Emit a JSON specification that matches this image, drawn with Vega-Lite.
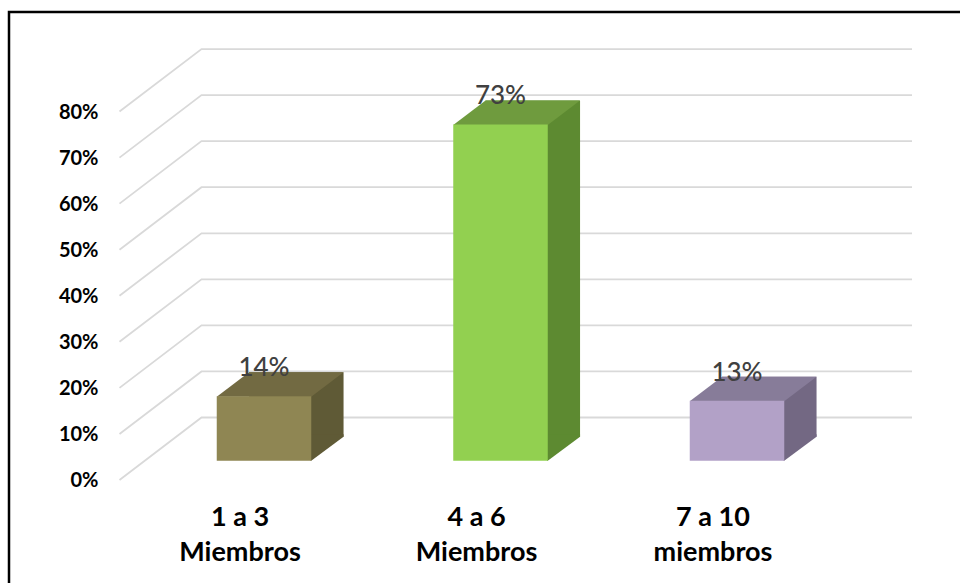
{
  "$schema": "https://vega.github.io/schema/vega-lite/v6.json",
  "width": 960,
  "height": 590,
  "autosize": "none",
  "padding": {"left": 9, "top": 12, "right": 0, "bottom": 0},
  "background": "white",
  "config": {"view": {"stroke": "#000000", "strokeWidth": 2.5}, "font": "Lato"},
  "datasets": {
    "barras": [
      {"grupo": "1 a 3 Miembros", "valor": 0.14},
      {"grupo": "4 a 6 Miembros", "valor": 0.73},
      {"grupo": "7 a 10 miembros", "valor": 0.13}
    ],
    "rejilla": [
      {"v": 0}, {"v": 0.1}, {"v": 0.2}, {"v": 0.3}, {"v": 0.4},
      {"v": 0.5}, {"v": 0.6}, {"v": 0.7}, {"v": 0.8}
    ]
  },
  "layer": [
    {
      "data": {"name": "rejilla"},
      "mark": {"type": "point", "shape": "M -381 62.5 L -299 0 L 411.5 0", "size": 4, "filled": false, "stroke": "#d9d9d9", "strokeWidth": 1.8, "opacity": 1},
      "encoding": {
        "x": {"datum": "4 a 6 Miembros", "type": "nominal"},
        "y": {
          "field": "v", "type": "quantitative",
          "scale": {"domain": [-0.4005, 0.8804], "nice": false, "zero": false},
          "axis": {
            "values": [0, 0.1, 0.2, 0.3, 0.4, 0.5, 0.6, 0.7, 0.8],
            "format": ".0%", "offset": -91, "labelOffset": 63, "labelPadding": 2,
            "ticks": false, "domain": false, "grid": false, "title": null,
            "labelFont": "Lato", "labelFontSize": 20, "labelFontWeight": "bold",
            "labelColor": "#000000", "labelAlign": "right", "labelBaseline": "middle"
          }
        }
      }
    },
    {
      "data": {"name": "barras"},
      "mark": {"type": "bar", "xOffset": 32.3, "x2Offset": 32.3, "yOffset": 19.2, "y2Offset": 19.2, "opacity": 1},
      "encoding": {
        "x": {
          "field": "grupo", "type": "nominal",
          "scale": {"type": "band", "paddingInner": 0.6004, "paddingOuter": 0.8298, "align": 0.5293, "round": false},
          "axis": {
            "orient": "bottom", "offset": -107, "labelOffset": -24, "labelPadding": 9,
            "ticks": false, "domain": false, "title": null, "labelAngle": 0,
            "labelFont": "Lato", "labelFontSize": 27, "labelFontWeight": "bold",
            "labelColor": "#000000", "labelLineHeight": 35, "labelBaseline": "top", "labelAlign": "center",
            "labelExpr": "[slice(datum.label, 0, lastindexof(datum.label, ' ')), slice(datum.label, lastindexof(datum.label, ' ') + 1)]"
          }
        },
        "y": {"field": "valor", "type": "quantitative", "stack": null},
        "y2": {"datum": 0},
        "color": {"field": "grupo", "type": "nominal", "scale": {"range": ["#5f5a36", "#5d8a31", "#736883"]}, "legend": null}
      }
    },
    {
      "data": {"name": "barras"},
      "mark": {"type": "point", "shape": "M 46.5 0 L 46.5 -26.5 L 79.55 -26.5 L 79.55 -24 L 47.25 0 Z", "size": 4, "filled": true, "opacity": 1, "yOffset": 43.2},
      "encoding": {
        "x": {"field": "grupo", "type": "nominal"},
        "y": {"datum": 0, "type": "quantitative"},
        "color": {"field": "grupo", "type": "nominal", "scale": {"range": ["#5f5a36", "#5d8a31", "#736883"]}, "legend": null}
      }
    },
    {
      "data": {"name": "barras"},
      "mark": {"type": "point", "shape": "M -47.25 0.5 L 47.25 0.5 L 79.55 -24 L -14.95 -24 Z", "size": 4, "filled": true, "opacity": 1, "yOffset": 43.2},
      "encoding": {
        "x": {"field": "grupo", "type": "nominal"},
        "y": {"field": "valor", "type": "quantitative"},
        "color": {"field": "grupo", "type": "nominal", "scale": {"range": ["#726a42", "#6f9b3e", "#877c99"]}, "legend": null}
      }
    },
    {
      "data": {"name": "barras"},
      "mark": {"type": "bar", "yOffset": 43.2, "y2Offset": 43.2, "opacity": 1},
      "encoding": {
        "x": {"field": "grupo", "type": "nominal"},
        "y": {"field": "valor", "type": "quantitative", "stack": null},
        "y2": {"datum": 0},
        "color": {"field": "grupo", "type": "nominal", "scale": {"range": ["#8f8653", "#92d050", "#b2a1c7"]}, "legend": null}
      }
    },
    {
      "data": {"name": "barras"},
      "mark": {"type": "text", "font": "Lato", "fontSize": 26, "fontWeight": 500, "color": "#404040", "align": "center", "baseline": "middle", "yOffset": 15.2},
      "encoding": {
        "x": {"field": "grupo", "type": "nominal"},
        "y": {"field": "valor", "type": "quantitative"},
        "text": {"field": "valor", "type": "quantitative", "format": ".0%"}
      }
    }
  ],
  "resolve": {"scale": {"color": "independent"}}
}
